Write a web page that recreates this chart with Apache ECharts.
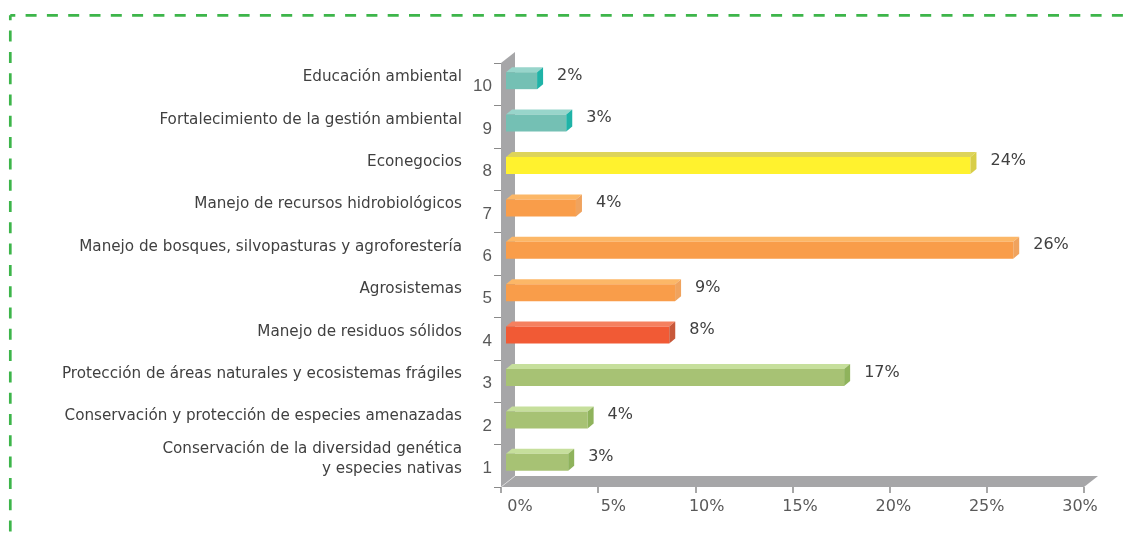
<!DOCTYPE html>
<html>
<head>
<meta charset="utf-8">
<script src="https://cdn.jsdelivr.net/npm/echarts@6/dist/echarts.min.js"></script>
<style>
  html, body { margin: 0; padding: 0; background: #fff; }
  #main { width: 1132px; height: 538px; }
</style>
</head>
<body>
<div id="main"></div>
<script>
// filas de abajo hacia arriba (1..10)
var categories = ['1', '2', '3', '4', '5', '6', '7', '8', '9', '10'];
var names = [
  'Conservación de la diversidad genética\ny especies nativas',
  'Conservación y protección de especies amenazadas',
  'Protección de áreas naturales y ecosistemas frágiles',
  'Manejo de residuos sólidos',
  'Agrosistemas',
  'Manejo de bosques, silvopasturas y agroforestería',
  'Manejo de recursos hidrobiológicos',
  'Econegocios',
  'Fortalecimiento de la gestión ambiental',
  'Educación ambiental'
];
var values = [3.2, 4.2, 17.4, 8.4, 8.7, 26.1, 3.6, 23.9, 3.1, 1.6];

// colores: frente, cara superior, lado
var green = ['#a7c274', '#c6df9c', '#8fb35c'];
var red = ['#f15a35', '#f5805f', '#c8583a'];
var orange = ['#f99d4a', '#fcb767', '#f0a35e'];
var yellow = ['#fff22e', '#ddd45a', '#d8ce48'];
var teal = ['#74c0b4', '#98d5cb', '#1fb3a7'];
var barColors = [green, green, green, red, orange, orange, orange, yellow, teal, teal];

var chart = echarts.init(document.getElementById('main'));

// caja del plano frontal
var L = 501, T = 63, R = 1084, B = 487;
var DX = 14, DY = -11;

function renderBar(params, api) {
  var idx = api.value(1);
  var base = api.coord([0, idx]);
  var end = api.coord([api.value(0), idx]);
  var band = api.size([0, 1])[1];
  var h = band * 0.4;
  var yc = base[1] - 3.5;
  var x0 = base[0] + 5, x1 = end[0] + 5;
  var y0 = yc - h / 2, y1 = yc + h / 2;
  var c = barColors[params.dataIndex];
  return {
    type: 'group',
    children: [
      { type: 'polygon', shape: { points: [[x0, y0], [x0 + 6, y0 - 5], [x1 + 6, y0 - 5], [x1, y0]] }, style: { fill: c[1] } },
      { type: 'rect', shape: { x: x0, y: y0, width: x1 - x0, height: h }, style: { fill: c[0] } },
      { type: 'polygon', shape: { points: [[x1, y0], [x1 + 6, y0 - 5], [x1 + 6, y1 - 5], [x1, y1]] }, style: { fill: c[2] } },
      {
        type: 'text',
        x: x1 + 20, y: yc - 5,
        style: {
          text: Math.round(api.value(0)) + '%',
          fontFamily: 'DejaVu Sans', fontSize: 16, fill: '#404040',
          verticalAlign: 'middle', align: 'left'
        }
      }
    ]
  };
}

chart.setOption({
  animation: false,
  backgroundColor: '#fff',
  grid: [
    { left: L, top: T, width: R - L, height: B - T },
    { left: 520, top: T, width: 560, height: B - T },
    // rejilla solo para los nombres, corrida 7px hacia arriba
    { left: L, top: T - 7, width: R - L, height: B - T }
  ],
  xAxis: [
    {
      type: 'value', gridIndex: 0, min: 0, max: 30, interval: 5,
      axisLine: { show: false },
      axisTick: { show: true, length: 6, lineStyle: { color: '#8a8a8a', width: 1.5 } },
      axisLabel: { show: false },
      splitLine: { show: false }
    },
    {
      type: 'value', gridIndex: 1, min: 0, max: 30, interval: 5,
      axisLine: { show: false },
      axisTick: { show: false },
      axisLabel: {
        margin: 12, fontFamily: 'DejaVu Sans', fontSize: 16, color: '#595959',
        formatter: '{value}%'
      },
      splitLine: { show: false }
    },
    { type: 'value', gridIndex: 2, min: 0, max: 30, show: false }
  ],
  yAxis: [
    {
      type: 'category', gridIndex: 0, data: categories, position: 'left',
      axisLine: { show: false },
      axisTick: { show: true, length: 7, lineStyle: { color: '#8a8a8a' } },
      axisLabel: {
        interval: 0, margin: 9,
        formatter: function (v) { return '{k|' + v + '}'; },
        rich: {
          k: {
            fontFamily: 'Liberation Sans', fontSize: 17,
            color: '#595959', padding: [5, 0, 0, 0]
          }
        }
      }
    },
    {
      type: 'category', gridIndex: 1, data: categories, show: false
    },
    {
      type: 'category', gridIndex: 2, data: names, position: 'left',
      axisLine: { show: false },
      axisTick: { show: false },
      axisLabel: {
        interval: 0, margin: 39,
        fontFamily: 'DejaVu Sans', fontSize: 15.2, color: '#404040',
        lineHeight: 20, align: 'right', verticalAlign: 'middle'
      }
    }
  ],
  graphic: [
    { type: 'polygon', z: 0, shape: { points: [[L, T], [L + DX, T + DY], [L + DX, B + DY], [L, B]] }, style: { fill: '#a6a6a8' } },
    { type: 'polygon', z: 0, shape: { points: [[L, B], [L + DX, B + DY], [R + DX, B + DY], [R, B]] }, style: { fill: '#a6a6a8' } },
    { type: 'line', z: 1, shape: { x1: L, y1: B, x2: L + DX, y2: B + DY }, style: { stroke: '#d8d8d8', lineWidth: 1 } },
    { type: 'polyline', z: 1, shape: { points: [[10.3, 15.3], [1140, 15.3]] }, style: { stroke: '#3db54a', lineWidth: 2.7, lineDash: [11, 10.3], lineDashOffset: 6, fill: null } },
    { type: 'polyline', z: 1, shape: { points: [[10.3, 15.3], [10.3, 545]] }, style: { stroke: '#3db54a', lineWidth: 2.7, lineDash: [11, 10.3], lineDashOffset: 6, fill: null } }
  ],
  series: [
    {
      type: 'custom',
      xAxisIndex: 0,
      yAxisIndex: 0,
      z: 2,
      renderItem: renderBar,
      encode: { x: 0, y: 1 },
      data: values.map(function (v, i) { return [v, i]; })
    }
  ]
});
</script>
</body>
</html>
